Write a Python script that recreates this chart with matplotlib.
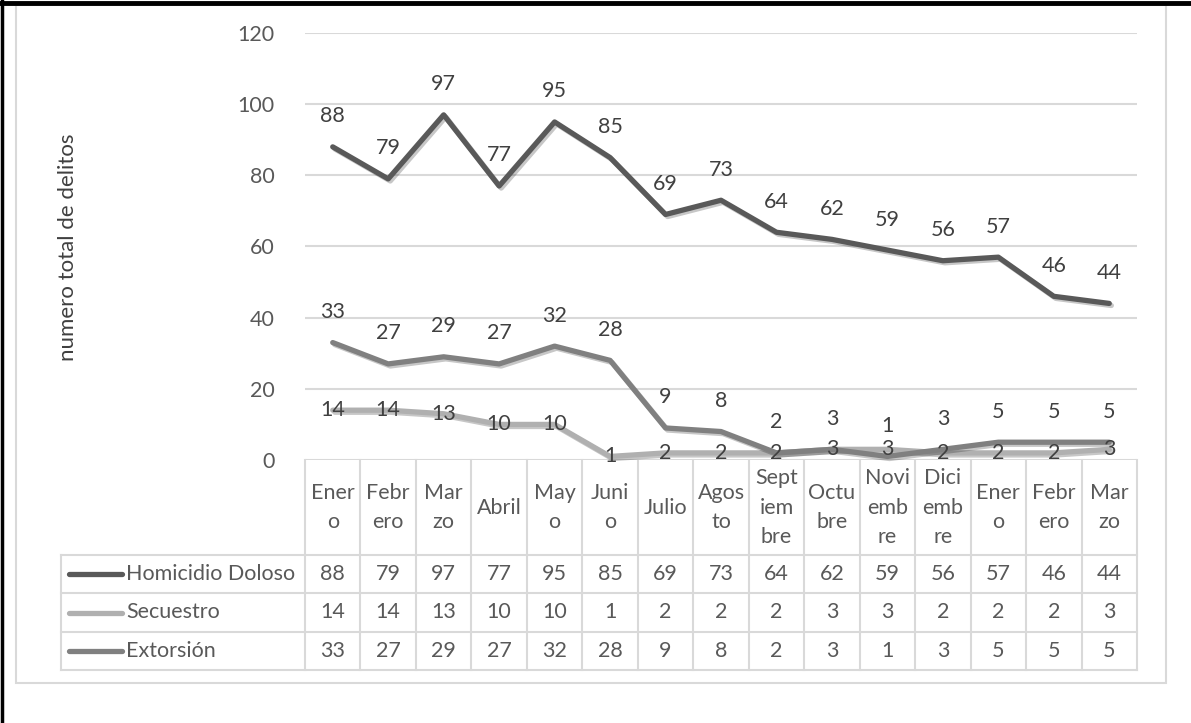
import matplotlib
matplotlib.use("Agg")
import matplotlib.pyplot as plt
import matplotlib.transforms as mtransforms
import matplotlib.patheffects as pe
from matplotlib.lines import Line2D

plt.rcParams['font.family'] = ['Lato', 'DejaVu Sans']

# ---------------- data ----------------
months = ["Ener\no", "Febr\nero", "Mar\nzo", "Abril", "May\no", "Juni\no", "Julio",
          "Agos\nto", "Sept\niem\nbre", "Octu\nbre", "Novi\nemb\nre", "Dici\nemb\nre",
          "Ener\no", "Febr\nero", "Mar\nzo"]
series_names = ["Homicidio Doloso", "Secuestro", "Extorsión"]
homicidio = [88, 79, 97, 77, 95, 85, 69, 73, 64, 62, 59, 56, 57, 46, 44]
secuestro = [14, 14, 13, 10, 10, 1, 2, 2, 2, 3, 3, 2, 2, 2, 3]
extorsion = [33, 27, 29, 27, 32, 28, 9, 8, 2, 3, 1, 3, 5, 5, 5]
yticks = [0, 20, 40, 60, 80, 100, 120]
ylabel = "numero total de delitos"

# ---------------- styles ----------------
W, H = 1191, 723
colors = ["#595959", "#b0b0b0", "#808080"]
label_offsets = [22, 0, 22]  # points above the point
grid_c = "#d9d9d9"
text_c = "#595959"
lab_c = "#404040"
fs = 15.5

def fx(x): return x / W
def fy(y): return 1 - y / H

fig = plt.figure(figsize=(W / 100, H / 100), dpi=100)
left_px, right_px, top_px, bot_px = 305, 1137, 33, 460
ax = fig.add_axes([fx(left_px), fy(bot_px), fx(right_px) - fx(left_px), fy(top_px) - fy(bot_px)])
ax.set_xlim(-0.5, len(months) - 0.5)
ax.set_ylim(0, 120)
ax.set_yticks(yticks)
ax.set_yticklabels([str(t) for t in yticks], fontsize=fs, color=text_c)
ax.tick_params(axis='y', length=0, pad=22)
ax.set_xticks([])
for s in ax.spines.values():
    s.set_visible(False)
ax.grid(axis='y', color=grid_c, lw=1.5)
ax.set_axisbelow(True)

xs = list(range(len(months)))
data = [homicidio, secuestro, extorsion]
shadow = [pe.SimpleLineShadow(offset=(1.5, -1.5), alpha=0.22, shadow_color='black'), pe.Normal()]
for i, (vals, c) in enumerate(zip(data, colors)):
    ax.plot(xs, vals, color=c, lw=3.8, solid_capstyle='round', solid_joinstyle='round',
            path_effects=shadow, zorder=3 + i, clip_on=False)
for i, vals in enumerate(data):
    for x, v in zip(xs, vals):
        ax.annotate(str(v), (x, v), xytext=(0, label_offsets[i]), textcoords='offset points',
                    ha='center', va='center', fontsize=fs, color=lab_c, zorder=10,
                    annotation_clip=False)

# ---------------- data table ----------------
bt = mtransforms.blended_transform_factory(ax.transData, fig.transFigure)
row_lines = [555, 593, 632, 670]
tbl_left = 61
lkw = dict(color=grid_c, lw=1.5, zorder=1)
for y in row_lines:
    fig.add_artist(Line2D([fx(tbl_left), fx(right_px)], [fy(y), fy(y)], **lkw))
fig.add_artist(Line2D([fx(tbl_left), fx(tbl_left)], [fy(row_lines[0]), fy(row_lines[-1])], **lkw))
for k in range(len(months) + 1):
    ax.add_line(Line2D([k - 0.5, k - 0.5], [fy(bot_px), fy(row_lines[-1])], transform=bt,
                       clip_on=False, **lkw))
for k, m in enumerate(months):
    ax.text(k, fy((bot_px + row_lines[0]) / 2), m, transform=bt, ha='center', va='center',
            fontsize=fs, color=text_c, linespacing=1.6)
for r, vals in enumerate(data):
    yc = fy((row_lines[r] + row_lines[r + 1]) / 2)
    for k, v in enumerate(vals):
        ax.text(k, yc, str(v), transform=bt, ha='center', va='center', fontsize=fs, color=text_c)
    fig.add_artist(Line2D([fx(69), fx(122)], [yc, yc], color=colors[r], lw=3.8,
                          solid_capstyle='round'))
    fig.text(fx(126), yc, series_names[r], ha='left', va='center', fontsize=fs, color=text_c)

fig.text(fx(68), fy(247), ylabel, rotation=90, ha='center', va='center', fontsize=16,
         color=lab_c)

fig.add_artist(plt.Rectangle((fx(16), fy(683)), fx(1166) - fx(16), fy(5) - fy(683),
                             fill=False, edgecolor=grid_c, lw=1.5))
fig.add_artist(Line2D([0, 1], [fy(2.5), fy(2.5)], color='black', lw=3.5))
fig.add_artist(Line2D([fx(1.5), fx(1.5)], [0, 1], color='black', lw=2.5))

fig.savefig("out.png", dpi=100, facecolor='white')
